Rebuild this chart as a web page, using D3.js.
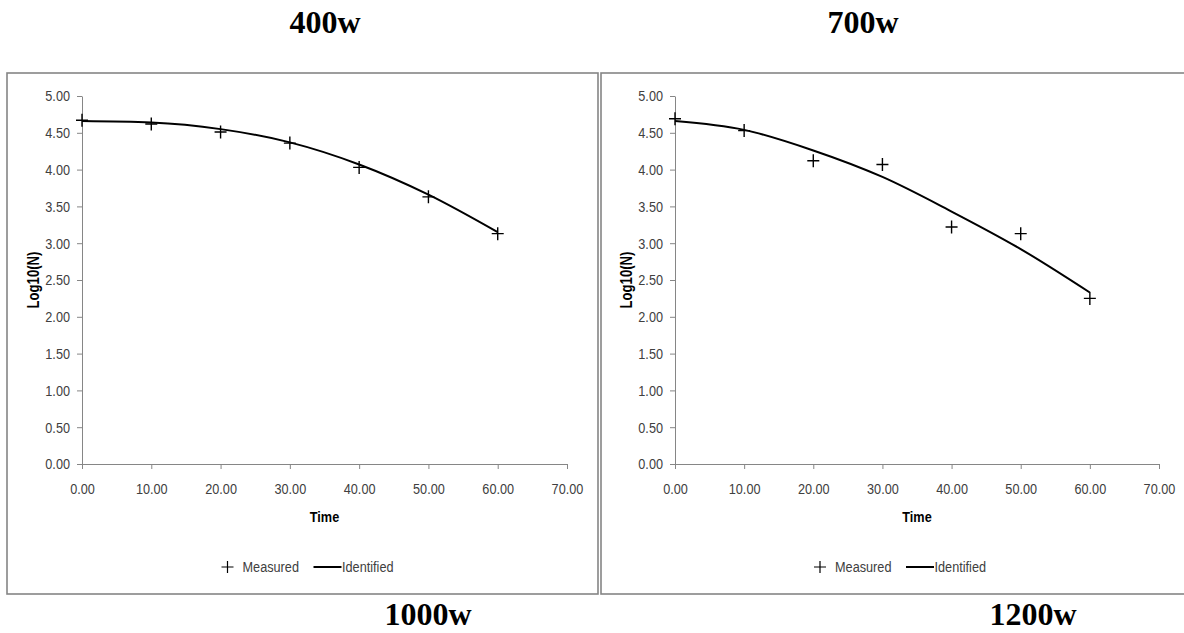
<!DOCTYPE html>
<html>
<head>
<meta charset="utf-8">
<script src="https://cdn.jsdelivr.net/npm/d3@7"></script>
<style>
  body { margin: 0; background: #fff; }
  svg { display: block; }
  .tick text { font-family: "Liberation Sans Narrow", "Liberation Sans", sans-serif; font-size: 15.5px; fill: #404040; }
</style>
</head>
<body>
<svg id="chart" width="1184" height="633"></svg>
<script>
// Data
const times = [0, 10, 20, 30, 40, 50, 60];
const measuredLeft = [4.67, 4.62, 4.51, 4.36, 4.03, 3.63, 3.13];
const identifiedLeft = [4.66, 4.64, 4.55, 4.37, 4.07, 3.66, 3.15];
const measuredRight = [4.69, 4.53, 4.12, 4.07, 3.22, 3.13, 2.25];
const identifiedRight = [4.66, 4.54, 4.26, 3.90, 3.43, 2.92, 2.33];

const xTicks = [0, 10, 20, 30, 40, 50, 60, 70];
const yTicks = [0, 0.5, 1, 1.5, 2, 2.5, 3, 3.5, 4, 4.5, 5];

const legendLabels = ["Measured", "Identified"];
const captions = [
  { text: "400w", x: 325, y: 33 },
  { text: "700w", x: 863, y: 33 },
  { text: "1000w", x: 428, y: 625 },
  { text: "1200w", x: 1033, y: 625 }
];

const svg = d3.select('#chart');
const axisColor = "#868686";
const labelFont = '"Liberation Sans", sans-serif';
const squeeze = 0.82; // the original uses a narrow face, so text is compressed horizontally

// text drawn narrow: placed by a group, compressed in x
function narrowText(x, y, str, opts) {
  const g = svg.append('g').attr('transform', `translate(${x},${y})${opts.rotate ? ' rotate(-90)' : ''} scale(${squeeze},1)`);
  return g.append('text')
    .attr('text-anchor', opts.anchor || 'start')
    .style('font-family', labelFont)
    .style('font-weight', opts.bold ? 'bold' : 'normal')
    .style('font-size', (opts.size || 15.5) + 'px')
    .attr('fill', opts.fill || '#000')
    .text(str);
}

function drawPanel(opts) {
  // panel frame
  svg.append('rect')
    .attr('x', opts.frame[0]).attr('y', opts.frame[1])
    .attr('width', opts.frame[2]).attr('height', opts.frame[3])
    .attr('fill', 'none')
    .attr('stroke', '#858585')
    .attr('stroke-width', 1.6);

  const x = d3.scaleLinear().domain([0, 70]).range([opts.x0, opts.x1]);
  const y = d3.scaleLinear().domain([0, 5]).range([464, 96]);

  const yAxis = svg.append('g')
    .attr('transform', `translate(${opts.x0},0)`)
    .call(d3.axisLeft(y).tickValues(yTicks).tickFormat(d3.format('.2f'))
      .tickSize(5).tickSizeOuter(0).tickPadding(7));
  yAxis.selectAll('.tick text')
    .attr('x', -12 / squeeze)
    .attr('transform', `scale(${squeeze},1)`);

  const xAxis = svg.append('g')
    .attr('transform', 'translate(0,464)')
    .call(d3.axisBottom(x).tickValues(xTicks).tickFormat(d3.format('.2f'))
      .tickSize(5).tickSizeOuter(0).tickPadding(14));
  xAxis.selectAll('.tick text')
    .attr('transform', `scale(${squeeze},1)`);

  [xAxis, yAxis].forEach(a => {
    a.select('.domain').attr('stroke', axisColor);
    a.selectAll('.tick line').attr('stroke', axisColor);
  });

  const cx = (opts.x0 + opts.x1) / 2;

  // axis titles
  narrowText(cx, 522, 'Time', { anchor: 'middle', bold: true });
  narrowText(opts.x0 - 43, 280, 'Log10(N)', { anchor: 'middle', bold: true, rotate: true, size: 16 });

  // identified curve
  const line = d3.line()
    .x((d, i) => x(times[i]))
    .y(d => y(d))
    .curve(d3.curveMonotoneX);

  svg.append('path')
    .datum(opts.identified)
    .attr('d', line)
    .attr('fill', 'none')
    .attr('stroke', '#000')
    .attr('stroke-width', 2);

  // measured markers
  svg.selectAll(null)
    .data(opts.measured)
    .join('path')
    .attr('transform', (d, i) => `translate(${x(times[i])},${y(d)})`)
    .attr('d', 'M-6,0H6M0,-6.5V6.5')
    .attr('stroke', '#000')
    .attr('stroke-width', 1.4);

  // legend
  svg.append('path')
    .attr('transform', `translate(${cx - 97},567)`)
    .attr('d', 'M-6,0H6M0,-6V6')
    .attr('stroke', '#000')
    .attr('stroke-width', 1.2);
  narrowText(cx - 82, 572, legendLabels[0], { fill: '#404040' });
  svg.append('line')
    .attr('x1', cx - 11).attr('x2', cx + 17)
    .attr('y1', 567).attr('y2', 567)
    .attr('stroke', '#000')
    .attr('stroke-width', 2);
  narrowText(cx + 17.5, 572, legendLabels[1], { fill: '#404040' });
}

drawPanel({ frame: [7, 73, 591, 521], x0: 82, x1: 567, measured: measuredLeft, identified: identifiedLeft });
drawPanel({ frame: [601, 73, 600, 521], x0: 675, x1: 1159, measured: measuredRight, identified: identifiedRight });

// captions around the panels
svg.selectAll(null)
  .data(captions)
  .join('text')
  .attr('x', d => d.x)
  .attr('y', d => d.y)
  .attr('text-anchor', 'middle')
  .style('font-family', '"Liberation Serif", "Times New Roman", serif')
  .style('font-weight', 'bold')
  .style('font-size', '32px')
  .attr('fill', '#000')
  .text(d => d.text);
</script>
</body>
</html>
